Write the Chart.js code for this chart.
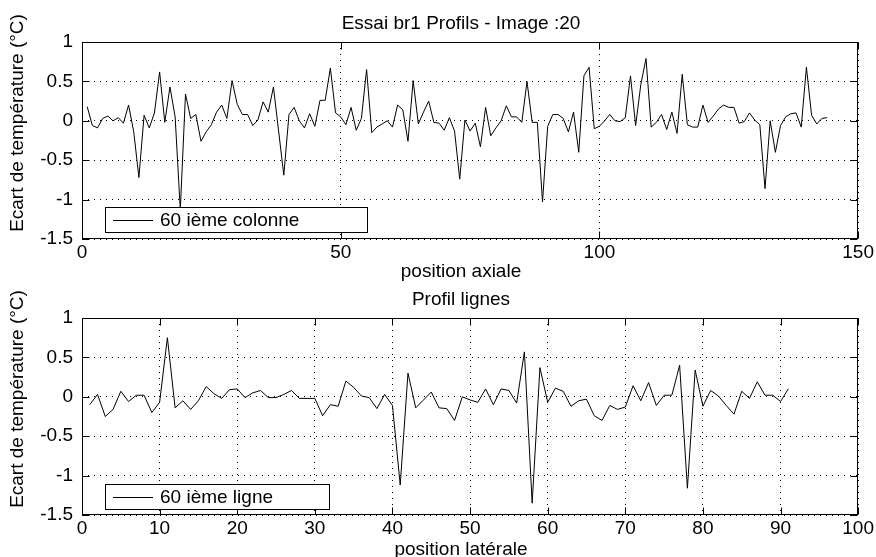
<!DOCTYPE html>
<html>
<head>
<meta charset="utf-8">
<title>Essai br1 Profils - Image :20</title>
<script src="https://cdn.jsdelivr.net/npm/chart.js"></script>
<style>
  body { margin: 0; background: #fff; }
  #wrap { position: relative; width: 876px; height: 557px; }
  canvas { position: absolute; left: 0; top: 0; }
</style>
</head>
<body>
<div id="wrap">
  <canvas id="chartCol" width="876" height="557"></canvas>
  <canvas id="chartLig" width="876" height="557"></canvas>
</div>
<script>
// profil le long de la 60 ieme colonne (position axiale 1..144)
const colonneValues = [
  0.18, -0.06, -0.09, 0.03, 0.06, 0.00, 0.04, -0.03, 0.20, -0.14,
  -0.72, 0.07, -0.09, 0.10, 0.62, -0.02, 0.43, 0.05, -1.13, 0.34,
  0.03, 0.08, -0.26, -0.14, -0.05, 0.11, 0.20, 0.03, 0.51, 0.21,
  0.08, 0.08, -0.06, 0.01, 0.24, 0.11, 0.43, -0.13, -0.69, 0.08,
  0.17, 0.00, -0.09, 0.09, -0.07, 0.26, 0.26, 0.67, 0.10, 0.05,
  -0.05, 0.17, -0.12, 0.03, 0.65, -0.15, -0.08, -0.04, 0.00, -0.08,
  0.20, 0.14, -0.26, 0.51, -0.04, 0.11, 0.25, -0.02, -0.03, -0.12,
  0.04, -0.13, -0.74, 0.01, -0.13, -0.03, -0.33, 0.17, -0.19, -0.09,
  0.00, 0.19, 0.05, 0.05, -0.02, 0.50, -0.02, -0.02, -1.03, -0.07,
  0.08, 0.08, 0.03, -0.14, 0.11, -0.40, 0.57, 0.68, -0.10, -0.07,
  0.00, 0.08, 0.00, -0.01, 0.04, 0.57, -0.06, 0.46, 0.79, -0.08,
  -0.02, 0.08, -0.11, 0.11, -0.16, 0.59, -0.05, -0.08, -0.08, 0.20,
  -0.02, 0.06, 0.15, 0.20, 0.17, 0.17, -0.03, -0.01, 0.10, 0.01,
  -0.05, -0.86, 0.00, -0.40, -0.06, 0.05, 0.09, 0.10, -0.08, 0.68,
  0.07, -0.04, 0.03, 0.04
];

// profil le long de la 60 ieme ligne (position laterale 1..91)
const ligneValues = [
  -0.10, 0.03, -0.25, -0.16, 0.07, -0.06, 0.02, 0.02, -0.20, -0.07,
  0.75, -0.14, -0.05, -0.16, -0.05, 0.13, 0.04, -0.02, 0.09, 0.10,
  -0.01, 0.05, 0.08, -0.01, -0.01, 0.03, 0.08, -0.02, -0.02, -0.02,
  -0.24, -0.10, -0.12, 0.20, 0.12, 0.01, -0.01, -0.15, 0.03, -0.11,
  -1.12, 0.30, -0.14, -0.04, 0.06, -0.14, -0.15, -0.30, 0.00, -0.04,
  -0.07, 0.10, -0.10, 0.10, 0.08, -0.08, 0.57, -1.35, 0.37, -0.07,
  0.11, 0.07, -0.12, -0.05, -0.03, -0.24, -0.30, -0.11, -0.16, -0.13,
  0.14, -0.05, 0.18, -0.11, 0.02, 0.02, 0.40, -1.16, 0.34, -0.12,
  0.08, 0.01, -0.11, -0.22, 0.07, -0.02, 0.19, 0.02, 0.02, -0.06,
  0.10
];

const yTicks = [-1.5, -1, -0.5, 0, 0.5, 1];
const axialTicks = [0, 50, 100, 150];
const lateralTicks = [0, 10, 20, 30, 40, 50, 60, 70, 80, 90, 100];

const FONT = '"Liberation Sans", Arial, Helvetica, sans-serif';
Chart.defaults.color = '#000';
Chart.defaults.font.family = FONT;
Chart.defaults.font.size = 19;

function toPoints(values) {
  const pts = [];
  for (let i = 0; i < values.length; i++) pts.push({ x: i + 1, y: values[i] });
  return pts;
}

// cadre, graduations vers l'interieur, titres et legende facon matlab
const matlabDecor = {
  id: 'matlabDecor',
  afterDraw(chart, args, o) {
    const { ctx, chartArea: a, scales } = chart;
    const L = Math.round(a.left) + 0.5, R = Math.round(a.right) - 0.5;
    const T = Math.round(a.top) + 0.5, B = Math.round(a.bottom) - 0.5;
    ctx.save();
    ctx.strokeStyle = '#000';
    ctx.lineWidth = 1;
    ctx.strokeRect(L, T, R - L, B - T);

    ctx.beginPath();
    o.xTicks.forEach(v => {
      const px = Math.round(scales.x.getPixelForValue(v)) + 0.5;
      ctx.moveTo(px, B); ctx.lineTo(px, B - 7);
      ctx.moveTo(px, T); ctx.lineTo(px, T + 7);
    });
    yTicks.forEach(v => {
      const py = Math.round(scales.y.getPixelForValue(v)) + 0.5;
      ctx.moveTo(L, py); ctx.lineTo(L + 7, py);
      ctx.moveTo(R, py); ctx.lineTo(R - 7, py);
    });
    ctx.stroke();

    // legende
    const lg = o.legend;
    ctx.fillStyle = '#fff';
    ctx.fillRect(lg.x, lg.y, lg.w, lg.h);
    ctx.strokeRect(lg.x + 0.5, lg.y + 0.5, lg.w, lg.h);
    const cy = Math.round(lg.y + lg.h / 2) + 0.5;
    ctx.beginPath();
    ctx.moveTo(lg.x + 8, cy); ctx.lineTo(lg.x + 48, cy);
    ctx.stroke();
    ctx.fillStyle = '#000';
    ctx.font = '19px ' + FONT;
    ctx.textAlign = 'left';
    ctx.textBaseline = 'middle';
    ctx.fillText(chart.data.datasets[0].label, lg.x + 55, lg.y + lg.h / 2 + 1);

    // titres
    ctx.textAlign = 'center';
    ctx.textBaseline = 'alphabetic';
    ctx.fillText(o.title, 461, o.titleY);
    ctx.fillText(o.xLabel, 461, o.xLabelY);
    ctx.translate(18, o.yLabelY);
    ctx.rotate(-Math.PI / 2);
    ctx.textBaseline = 'middle';
    ctx.fillText('Ecart de température (°C)', 0, 0);
    ctx.restore();
  }
};

function makeChart(id, values, label, xTicks, padding, decor) {
  return new Chart(document.getElementById(id), {
    type: 'line',
    data: {
      datasets: [{
        label: label,
        data: toPoints(values),
        borderColor: '#000',
        borderWidth: 1,
        pointRadius: 0,
        fill: false,
        tension: 0
      }]
    },
    options: {
      responsive: false,
      animation: false,
      layout: { padding: padding },
      plugins: {
        legend: { display: false },
        title: { display: false },
        tooltip: { enabled: false },
        matlabDecor: decor
      },
      scales: {
        x: {
          type: 'linear',
          min: xTicks[0],
          max: xTicks[xTicks.length - 1],
          ticks: { stepSize: xTicks[1] - xTicks[0], padding: 2, maxRotation: 0 },
          grid: { color: '#000', drawTicks: false },
          border: { display: false, dash: [1, 5] },
          afterFit(s) { s.height = 30; }
        },
        y: {
          min: yTicks[0],
          max: yTicks[yTicks.length - 1],
          ticks: {
            stepSize: 0.5,
            padding: 9,
            callback: v => String(v)
          },
          grid: { color: '#000', drawTicks: false },
          border: { display: false, dash: [1, 5] },
          afterFit(s) { s.width = 82; }
        }
      }
    },
    plugins: [matlabDecor]
  });
}

makeChart('chartCol', colonneValues, '60 ième colonne', axialTicks,
  { left: 0, right: 16, top: 42, bottom: 288 },
  { xTicks: axialTicks, title: 'Essai br1 Profils - Image :20', titleY: 29,
    xLabel: 'position axiale', xLabelY: 277, yLabelY: 123,
    legend: { x: 105, y: 207, w: 262, h: 25 } });

makeChart('chartLig', ligneValues, '60 ième ligne', lateralTicks,
  { left: 0, right: 16, top: 318, bottom: 12 },
  { xTicks: lateralTicks, title: 'Profil lignes', titleY: 305,
    xLabel: 'position latérale', xLabelY: 555, yLabelY: 399,
    legend: { x: 105, y: 484, w: 224, h: 25 } });
</script>
</body>
</html>
